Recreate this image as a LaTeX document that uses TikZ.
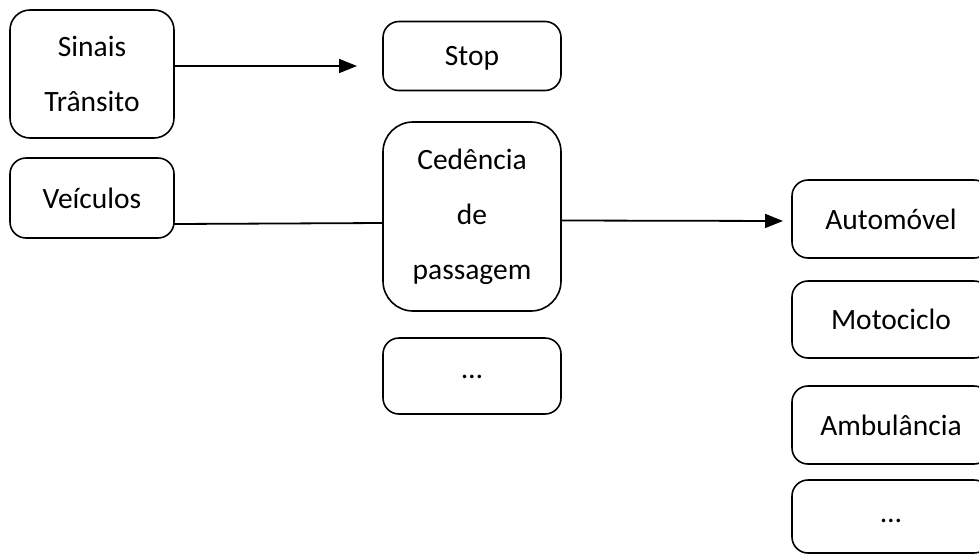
\documentclass[tikz,border=0pt]{standalone}
\usepackage{fontspec}
\setmainfont{Carlito}
\usetikzlibrary{arrows.meta}
\begin{document}
\begin{tikzpicture}[x=1pt,y=-1pt,
  frame/.style={draw, line width=1.6pt, rounded corners=20pt, inner sep=0pt, outer sep=0pt,
    font={\fontsize{29.5}{55}\selectfont}},
  box/.style={frame, align=center},
  conn/.style={line width=1.8pt},
  arr/.style={conn, -{Triangle[length=18pt,width=14pt]}}]
\useasboundingbox (0,0) rectangle (979,555);
\clip (0,0) rectangle (979,555);
\fill[white] (0,0) rectangle (979,555);
\node[box, minimum width=164pt, minimum height=128pt] (sinais) at (92,74) {Sinais\\Trânsito};
\node[box, minimum width=164pt, minimum height=80pt, rounded corners=16pt] (veic) at (92,198) {Veículos};
\node[box, minimum width=178pt, minimum height=69pt, rounded corners=16pt] (stop) at (472,56) {\smash{\raisebox{-9pt}{Stop}}};
\node[box, minimum width=178pt, minimum height=189pt, rounded corners=30pt] (cede) at (472,216.5) {Cedência\\de\\passagem};
\node[frame, minimum width=178pt, minimum height=76pt, rounded corners=16pt, text height=5pt, text depth=0pt] (dotsa) at (472,376) {…};
\node[box, minimum width=198pt, minimum height=78pt, rounded corners=16pt] (auto) at (891,219) {Automóvel};
\node[box, minimum width=198pt, minimum height=77pt, rounded corners=16pt] (moto) at (891,319.5) {Motociclo};
\node[box, minimum width=198pt, minimum height=78pt, rounded corners=16pt] (amb) at (891,425) {Ambulância};
\node[frame, minimum width=198pt, minimum height=73pt, rounded corners=16pt, text height=11pt, text depth=0pt] (dotsb) at (891,516.5) {…};
\coordinate (send) at (357,66);
\draw[arr] ([yshift=8pt]sinais.east) -- (send);
\draw[conn] ([yshift=-26pt]veic.east) -- ([yshift=-6.5pt]cede.west);
\draw[arr, shorten >=9pt] ([yshift=-4pt]cede.east) -- ([yshift=-2pt]auto.west);
\end{tikzpicture}
\end{document}
